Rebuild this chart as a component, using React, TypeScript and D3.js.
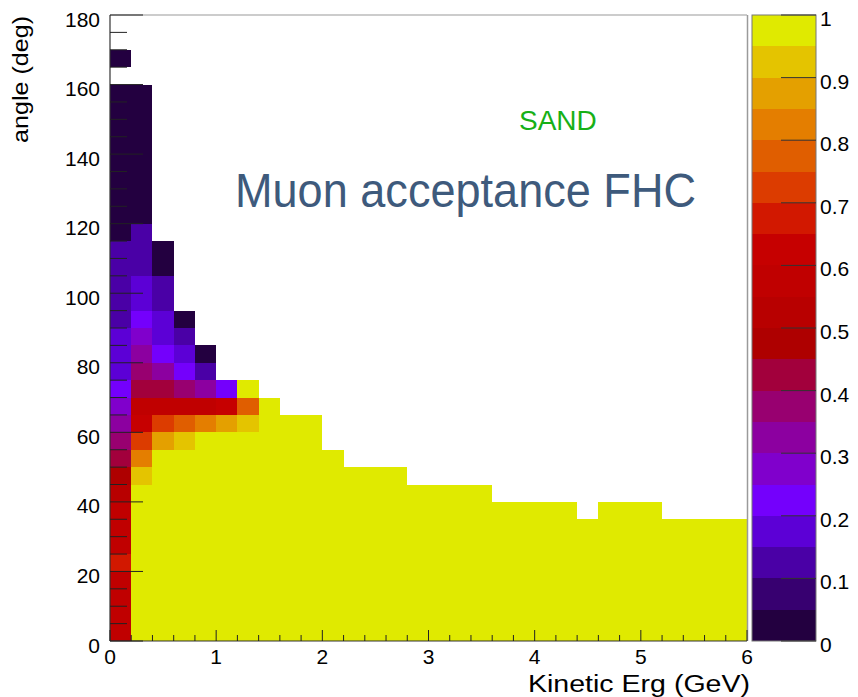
import React from "react";
import * as d3 from "d3";

// ---------- data ----------
// x: muon kinetic energy bins (GeV), y: angle bins (deg)
const energyBinWidth = 0.2;
const angleBinWidth = 5;
const energyRange = [0, 6];
const angleRange = [0, 180];

// acceptance per energy bin, listed from angle bin 0-5 deg upward (null = empty)
const acceptance: (number | null)[][] = [
  [0.57, 0.57, 0.57, 0.57, 0.67, 0.57, 0.57, 0.57, 0.52, 0.48, 0.42, 0.37, 0.32, 0.27, 0.22, 0.17, 0.17, 0.16, 0.12, 0.12, 0.12, 0.12, 0.12, 0.03, 0.03, 0.03, 0.03, 0.03, 0.03, 0.03, 0.03, 0.03, null, 0.03],
  [1, 1, 1, 1, 1, 1, 1, 1, 1, 0.92, 0.82, 0.72, 0.62, 0.57, 0.44, 0.37, 0.32, 0.25, 0.22, 0.18, 0.16, 0.12, 0.12, 0.12, 0.03, 0.03, 0.03, 0.03, 0.03, 0.03, 0.03, 0.03],
  [1, 1, 1, 1, 1, 1, 1, 1, 1, 1, 1, 0.87, 0.72, 0.57, 0.44, 0.32, 0.22, 0.18, 0.17, 0.12, 0.12, 0.03, 0.03],
  [1, 1, 1, 1, 1, 1, 1, 1, 1, 1, 1, 0.92, 0.78, 0.57, 0.38, 0.22, 0.16, 0.1, 0.03],
  [1, 1, 1, 1, 1, 1, 1, 1, 1, 1, 1, 1, 0.82, 0.57, 0.32, 0.1, 0.03],
  [1, 1, 1, 1, 1, 1, 1, 1, 1, 1, 1, 1, 0.87, 0.6, 0.24],
  [1, 1, 1, 1, 1, 1, 1, 1, 1, 1, 1, 1, 0.92, 0.77, 1],
  [1, 1, 1, 1, 1, 1, 1, 1, 1, 1, 1, 1, 1, 1],
  [1, 1, 1, 1, 1, 1, 1, 1, 1, 1, 1, 1, 1],
  [1, 1, 1, 1, 1, 1, 1, 1, 1, 1, 1, 1, 1],
  [1, 1, 1, 1, 1, 1, 1, 1, 1, 1, 1],
  [1, 1, 1, 1, 1, 1, 1, 1, 1, 1],
  [1, 1, 1, 1, 1, 1, 1, 1, 1, 1],
  [1, 1, 1, 1, 1, 1, 1, 1, 1, 1],
  [1, 1, 1, 1, 1, 1, 1, 1, 1],
  [1, 1, 1, 1, 1, 1, 1, 1, 1],
  [1, 1, 1, 1, 1, 1, 1, 1, 1],
  [1, 1, 1, 1, 1, 1, 1, 1, 1],
  [1, 1, 1, 1, 1, 1, 1, 1],
  [1, 1, 1, 1, 1, 1, 1, 1],
  [1, 1, 1, 1, 1, 1, 1, 1],
  [1, 1, 1, 1, 1, 1, 1, 1],
  [1, 1, 1, 1, 1, 1, 1],
  [1, 1, 1, 1, 1, 1, 1, 1],
  [1, 1, 1, 1, 1, 1, 1, 1],
  [1, 1, 1, 1, 1, 1, 1, 1],
  [1, 1, 1, 1, 1, 1, 1],
  [1, 1, 1, 1, 1, 1, 1],
  [1, 1, 1, 1, 1, 1, 1],
  [1, 1, 1, 1, 1, 1, 1],
];

// 20-step palette, low -> high
const palette = [
  "#230040", "#370070", "#4a00a6", "#5c00d6", "#7400fc",
  "#8000cc", "#8c00a0", "#980070", "#a2003c", "#ae0000",
  "#b80000", "#c00000", "#c60000", "#d21800", "#dc3c00",
  "#e05e00", "#e47e00", "#e4a000", "#e4c400", "#e0ea00",
];

const xTickLabels = ["0", "1", "2", "3", "4", "5", "6"];
const yTickLabels = ["0", "20", "40", "60", "80", "100", "120", "140", "160", "180"];
const zTickLabels = ["0", "0.1", "0.2", "0.3", "0.4", "0.5", "0.6", "0.7", "0.8", "0.9", "1"];

const xTitle = "Kinetic Erg (GeV)";
const yTitle = "angle (deg)";
const mainText = "Muon acceptance FHC";
const tagText = "SAND";

// ---------- layout ----------
const W = 858;
const H = 697;
const FONT = "'Liberation Sans', Arial, Helvetica, sans-serif";

export default function App() {
  const x = d3.scaleLinear().domain(energyRange).range([110, 747]);
  const y = d3.scaleLinear().domain(angleRange).range([641, 15]);
  const z = d3.scaleQuantize<string>().domain([0, 1]).range(palette);
  const zy = d3.scaleLinear().domain([0, 1]).range([641, 15]);
  const barX0 = 752;
  const barX1 = 816;

  const cells: React.ReactNode[] = [];
  acceptance.forEach((col, i) => {
    const e0 = i * energyBinWidth;
    const e1 = (i + 1) * energyBinWidth;
    col.forEach((v, j) => {
      if (v == null) return;
      const a0 = j * angleBinWidth;
      const a1 = (j + 1) * angleBinWidth;
      const xa = Math.round(x(e0));
      const xb = Math.round(x(e1));
      const ya = Math.round(y(a1));
      const yb = Math.round(y(a0));
      cells.push(
        <rect key={`c${i}-${j}`} x={xa} y={ya} width={xb - xa} height={yb - ya} fill={z(Math.min(v, 0.9999))} />
      );
    });
  });

  const yMinor = d3.range(angleRange[0], angleRange[1] + 1, 5).filter((v) => v % 20 !== 0);
  const yMajor = yTickLabels.map(Number);
  const xMinor = d3.range(0, 31).map((k) => k * 0.2).filter((_, k) => k % 5 !== 0);
  const xMajor = xTickLabels.map(Number);

  const bands = palette.map((c, k) => {
    const lo = k / palette.length;
    const hi = (k + 1) / palette.length;
    const ya = Math.round(zy(hi));
    const yb = Math.round(zy(lo));
    return <rect key={`b${k}`} x={barX0} y={ya} width={barX1 - barX0} height={yb - ya} fill={c} />;
  });

  return (
    <svg width={W} height={H} style={{ position: "absolute", left: 0, top: 0, background: "#fff" }} fontFamily={FONT}>
      <rect x={0} y={0} width={W} height={H} fill="#fff" />
      <g shapeRendering="crispEdges">{cells}</g>

      {/* frame */}
      <line x1={110} y1={15} x2={747} y2={15} stroke="#9a9a9a" strokeWidth={1.2} />
      <line x1={747.5} y1={15} x2={747.5} y2={641} stroke="#9a9a9a" strokeWidth={1.5} />
      <line x1={110} y1={15} x2={110} y2={641} stroke="#333" strokeWidth={1.2} />
      <line x1={110} y1={641} x2={747} y2={641} stroke="#333" strokeWidth={1.2} />

      {/* y ticks */}
      {yMajor.map((v) => (
        <line key={`ym${v}`} x1={110} x2={143} y1={y(v)} y2={y(v)} stroke="#222" strokeWidth={1} />
      ))}
      {yMinor.map((v) => (
        <line key={`yn${v}`} x1={110} x2={127} y1={y(v)} y2={y(v)} stroke="#222" strokeWidth={1} />
      ))}
      {/* x ticks */}
      {xMajor.map((v) => (
        <line key={`xm${v}`} x1={x(v)} x2={x(v)} y1={641} y2={630} stroke="#222" strokeWidth={1} />
      ))}
      {xMinor.map((v) => (
        <line key={`xn${v}`} x1={x(v)} x2={x(v)} y1={641} y2={635} stroke="#222" strokeWidth={1} />
      ))}

      {/* y labels */}
      {yTickLabels.map((t) => (
        <text key={`yl${t}`} x={100} y={y(Number(t)) + 11.5} textAnchor="end" fontSize={21} fill="#000">
          {t}
        </text>
      ))}
      {/* x labels */}
      {xTickLabels.map((t) => (
        <text key={`xl${t}`} x={x(Number(t))} y={664} textAnchor="middle" fontSize={21} fill="#000">
          {t}
        </text>
      ))}

      {/* titles */}
      <text x={750} y={692} textAnchor="end" fontSize={23} textLength={222} lengthAdjust="spacingAndGlyphs">
        {xTitle}
      </text>
      <text
        transform="translate(28,16) rotate(-90)"
        textAnchor="end"
        fontSize={22}
        textLength={127}
        lengthAdjust="spacingAndGlyphs"
      >
        {yTitle}
      </text>

      <text x={519} y={130} fontSize={28} fill="#17b017">
        {tagText}
      </text>
      <text x={235} y={207} fontSize={49} fill="#3e5a7c" textLength={461} lengthAdjust="spacingAndGlyphs">
        {mainText}
      </text>

      {/* colour bar */}
      <g shapeRendering="crispEdges">{bands}</g>
      <rect x={barX0} y={15} width={barX1 - barX0} height={626} fill="none" stroke="#777" strokeWidth={1} />
      {zTickLabels.map((t) => (
        <line key={`zt${t}`} x1={barX1 - 35} x2={barX1} y1={zy(Number(t))} y2={zy(Number(t))} stroke="#333" strokeWidth={1} />
      ))}
      {zTickLabels.map((t) => (
        <text key={`zl${t}`} x={820} y={zy(Number(t)) + 11} fontSize={21} fill="#000">
          {t}
        </text>
      ))}
    </svg>
  );
}
